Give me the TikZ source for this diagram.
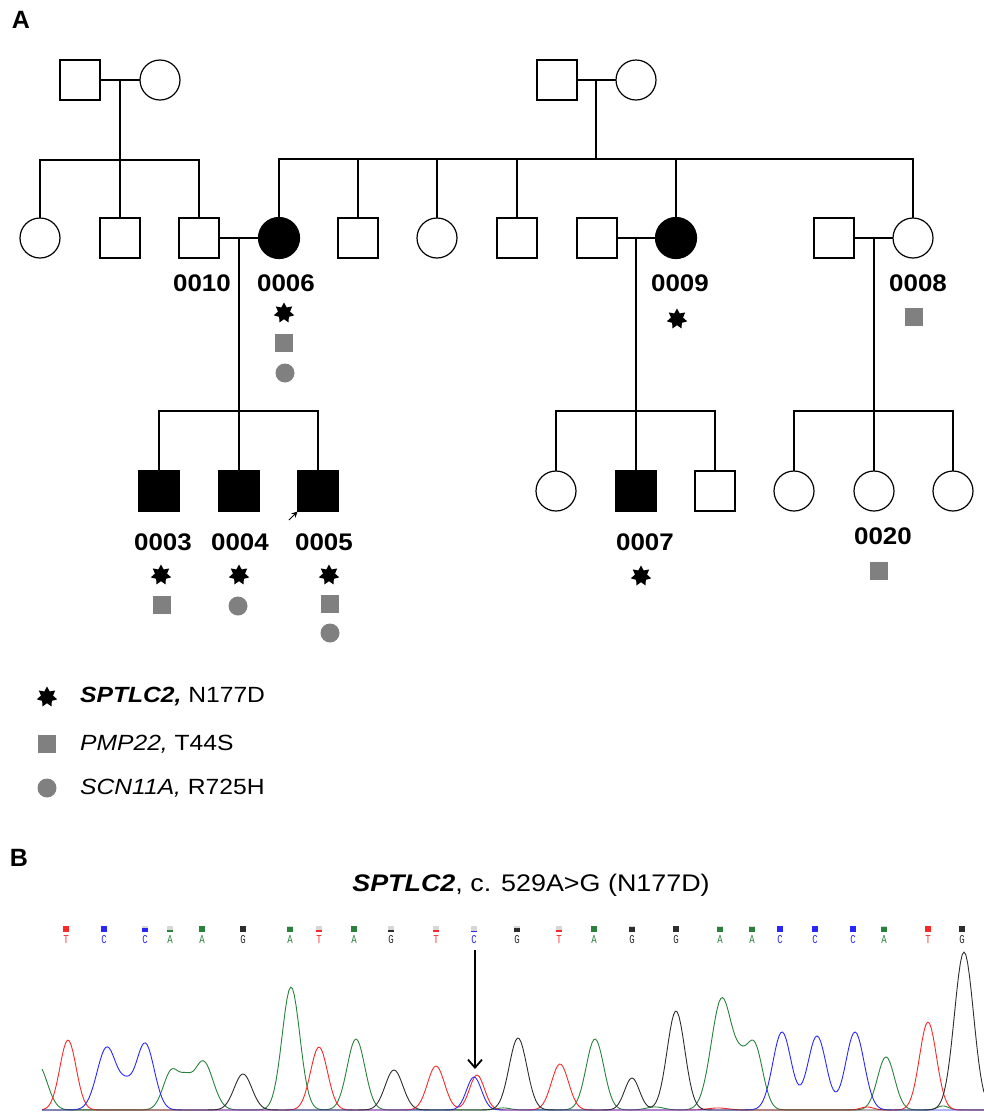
\documentclass[tikz,border=0pt]{standalone}
\usepackage{fontspec}
\setmainfont{Liberation Sans}
\newfontfamily\basefont{Liberation Mono}
\usetikzlibrary{shapes.geometric,arrows.meta}

\definecolor{mkgray}{RGB}{128,128,128}
\definecolor{trR}{RGB}{250,40,40}
\definecolor{trB}{RGB}{40,40,250}
\definecolor{trG}{RGB}{40,130,60}
\definecolor{trK}{RGB}{45,45,45}
\definecolor{qgray}{RGB}{215,215,215}

\newcommand{\wide}[2]{\scalebox{#1}[1]{#2}}

\tikzset{
  ped/.style={draw, line width=1.2pt, inner sep=0pt, outer sep=0pt, fill=white},
  male/.style={ped, rectangle, minimum size=40pt},
  female/.style={ped, circle, minimum size=40pt},
  aff/.style={fill=black, minimum size=41pt},
  pline/.style={line width=1.2pt},
  dline/.style={line width=1.7pt},
  idlab/.style={font=\fontsize{24}{24}\selectfont\bfseries, inner sep=0pt},
  starmk/.style={star, star points=7, star point ratio=1.7, fill=black, minimum size=21pt, inner sep=0pt},
  sqmk/.style={rectangle, fill=mkgray, minimum size=18pt, inner sep=0pt},
  cimk/.style={circle, fill=mkgray, minimum size=19pt, inner sep=0pt},
  legtext/.style={font=\fontsize{22}{22}\selectfont, anchor=west, inner sep=0pt},
  panel/.style={font=\fontsize{25}{25}\selectfont\bfseries, inner sep=0pt},
  basecall/.style={font=\basefont\fontsize{12}{12}\selectfont, inner sep=0pt},
  trace/.style={line width=0.9pt, line join=round},
  declare function={g(\gx,\gc,\gw)=exp(-min(9,((\gx-\gc)/\gw)^2));}
}

\begin{document}
\begin{tikzpicture}[x=1pt, y=-1pt]
\useasboundingbox (0,0) rectangle (984,1112);

% ---------------- Panel A: pedigree ----------------
\node[panel] (labA) at (21,20) {A};

% first generation
\node[male]   (gLm) at (80,80) {};
\node[female] (gLf) at (160,80) {};
\node[male]   (gRm) at (557,80) {};
\node[female] (gRf) at (636,80) {};
\coordinate (jL) at (120,80);
\coordinate (sibL) at (120,160);
\coordinate (jR) at (596,80);
\coordinate (sibR) at (596,159);

% second generation
\node[female] (a1) at (40,238) {};
\node[male]   (a2) at (120,238) {};
\node[male]   (p10) at (199,238) {};
\node[female,aff] (p06) at (279,238) {};
\node[male]   (b2) at (358,238) {};
\node[female] (b3) at (437,238) {};
\node[male]   (b4) at (517,238) {};
\node[male]   (s09) at (597,238) {};
\node[female,aff] (p09) at (676,238) {};
\node[male]   (s08) at (834,238) {};
\node[female] (p08) at (913,238) {};

% third generation
\node[male,aff] (p03) at (159,491) {};
\node[male,aff] (p04) at (239,491) {};
\node[male,aff] (p05) at (318,491) {};
\node[female] (c1) at (556,491) {};
\node[male,aff] (p07) at (636,491) {};
\node[male]   (c3) at (715,491) {};
\node[female] (d1) at (794,491) {};
\node[female] (p20) at (874,491) {};
\node[female] (d3) at (953,491) {};

% couples and lines of descent
\coordinate (mA) at (239,238);
\coordinate (sibA) at (239,411);
\coordinate (mB) at (636,238);
\coordinate (sibB) at (636,411);
\coordinate (mC) at (874,238);
\coordinate (sibC) at (874,411);

\begin{scope}[pline]
  \draw (gLm) -- (gLf);
  \draw (gRm) -- (gRf);
  \draw (jL) -- (sibL);
  \draw (jR) -- (sibR);
  \draw (a1.north) |- (sibL) -| (p10.north);
  \draw (sibL) -- (a2.north);
  \draw (p06.north) |- (sibR) -| (p08.north);
  \foreach \n in {b2,b3,b4,p09} \draw (\n.north) -- (\n.north |- sibR);
  \draw (p10) -- (p06);
  \draw (s09) -- (p09);
  \draw (s08) -- (p08);
  \draw (p03.north) |- (sibA) -| (p05.north);
  \draw (c1.north) |- (sibB) -| (c3.north);
  \draw (d1.north) |- (sibC) -| (d3.north);
\end{scope}
\begin{scope}[dline]
  \draw (mA) -- (p04.north);
  \draw (mB) -- (p07.north);
  \draw (mC) -- (p20.north);
\end{scope}

% proband
\coordinate (prb) at (289,520);
\draw[line width=1pt, -{Stealth[length=6pt,width=6pt]}] (prb) -- (p05.south west);

% identifiers
\node[idlab] (l10) at (202,283) {\wide{1.08}{0010}};
\node[idlab] (l06) at (286,283) {\wide{1.08}{0006}};
\node[idlab] (l09) at (680,283) {\wide{1.08}{0009}};
\node[idlab] (l08) at (918,283) {\wide{1.08}{0008}};
\node[idlab] (l03) at (163,542) {\wide{1.08}{0003}};
\node[idlab] (l04) at (240,542) {\wide{1.08}{0004}};
\node[idlab] (l05) at (324,542) {\wide{1.08}{0005}};
\node[idlab] (l07) at (645,542) {\wide{1.08}{0007}};
\node[idlab] (l20) at (883,536) {\wide{1.08}{0020}};

% genotype markers
\node[starmk] (m06a) at (284,313) {};
\node[sqmk]   (m06b) at (284,343) {};
\node[cimk]   (m06c) at (285,373) {};
\node[starmk] (m09a) at (677,319) {};
\node[sqmk]   (m08b) at (914,317) {};
\node[starmk] (m03a) at (161,575) {};
\node[sqmk]   (m03b) at (162,605) {};
\node[starmk] (m04a) at (239,575) {};
\node[cimk]   (m04c) at (238,606) {};
\node[starmk] (m05a) at (329,575) {};
\node[sqmk]   (m05b) at (330,604) {};
\node[cimk]   (m05c) at (330,633) {};
\node[starmk] (m07a) at (641,576) {};
\node[sqmk]   (m20b) at (879,571) {};

% legend
\node[starmk] (kS) at (47,697) {};
\node[sqmk]   (kP) at (47,744) {};
\node[cimk]   (kN) at (47,788) {};
\node[legtext] (tS) at (80,697) {\wide{1.12}{\textbf{\textit{SPTLC2,}} N177D}};
\node[legtext] (tP) at (80,744) {\wide{1.12}{\textit{PMP22,} T44S}};
\node[legtext] (tN) at (80,788) {\wide{1.12}{\textit{SCN11A,} R725H}};

% ---------------- Panel B: chromatogram ----------------
\node[panel] (labB) at (19,858) {B};
\node[font=\fontsize{24}{24}\selectfont, inner sep=0pt] (title) at (531,885)
  {\wide{1.12}{\textbf{\textit{SPTLC2}}, c. 529A>G (N177D)}};

% base calls with quality boxes
\foreach \px/\b/\col/\q in {
  66/T/trR/1, 104/C/trB/1, 145/C/trB/0.75, 170/A/trG/0.35, 202/A/trG/1,
  243/G/trK/1, 290/A/trG/0.8, 319/T/trR/0.3, 354/A/trG/1, 391/G/trK/0.3,
  436/T/trR/0.3, 474/C/trB/0.15, 517/G/trK/0.6, 559/T/trR/0.3, 594/A/trG/1,
  632/G/trK/0.8, 676/G/trK/1, 720/A/trG/0.9, 752/A/trG/0.8, 780/C/trB/1,
  815/C/trB/1, 853/C/trB/1, 884/A/trG/0.8, 928/T/trR/1, 962/G/trK/1} {
  \fill[qgray] (\px-3,926) rectangle (\px+3,932);
  \fill[\col] (\px-3,932-6*\q) rectangle (\px+3,932);
  \node[basecall, text=\col] at (\px,940) {\wide{0.75}{\b}};
}

% traces
\draw[trace, trG] plot[domain=42:984, samples=520] (\x, {1110 - (
  45*g(\x,38,13) + 40*g(\x,172,12) + 16*g(\x,186,8) + 49*g(\x,203,14)
  + 123*g(\x,291,12.5) + 71*g(\x,356,12.5) + 2*g(\x,503,10) + 71*g(\x,595,12.5)
  + 3*g(\x,655,12) + 112*g(\x,722,15) + 22*g(\x,740,9) + 66*g(\x,754,12)
  + 53*g(\x,886,12) + 4*g(\x,943,8))});
\draw[trace, trR] plot[domain=42:984, samples=520] (\x, {1110 - (
  70*g(\x,68,11.5) + 63*g(\x,319,12) + 44*g(\x,436,12) + 35*g(\x,477,10.5)
  + 46*g(\x,560,12) + 2*g(\x,718,14) + 3*g(\x,867,9) + 88*g(\x,928,12))});
\draw[trace, trB] plot[domain=42:984, samples=520] (\x, {1110 - (
  63*g(\x,107,14) + 16*g(\x,126,9) + 67*g(\x,145,13) + 33*g(\x,474,10.5)
  + 78*g(\x,782,13) + 74*g(\x,817,13) + 78*g(\x,855,13))});
\draw[trace, trK] plot[domain=42:984, samples=520] (\x, {1110 - (
  36*g(\x,243,12.5) + 40*g(\x,394,12.5) + 72*g(\x,518,12.5) + 32*g(\x,632,10.5)
  + 99*g(\x,676,12.5) + 158*g(\x,964,13.5))});

% variant position
\coordinate (arT) at (475,950);
\coordinate (arH) at (475,1069);
\draw[line width=1.6pt, -{Straight Barb[length=8pt,width=14pt,line width=1.8pt]}] (arT) -- (arH);

\end{tikzpicture}
\end{document}
